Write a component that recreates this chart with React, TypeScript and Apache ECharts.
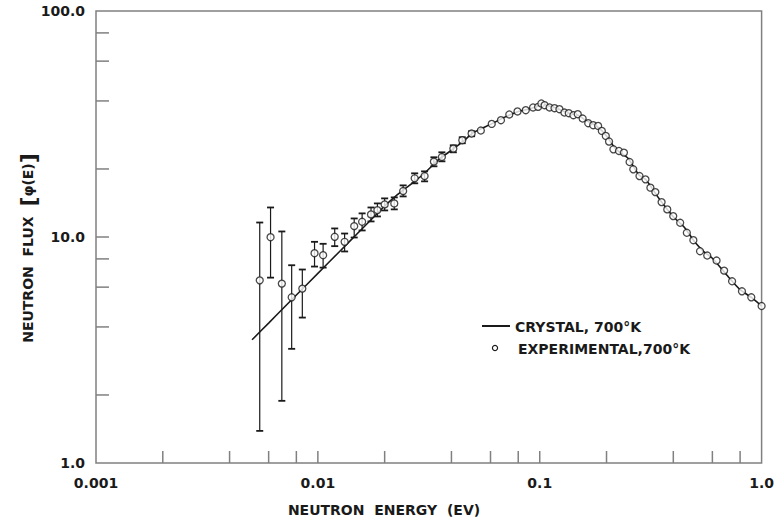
import React, { useEffect, useRef } from "react";
import * as echarts from "echarts";

// Experimental points (energy in eV, flux)
const expEnergy = [
  0.00547, 0.00612, 0.00688, 0.00762, 0.00851, 0.00966, 0.01056, 0.01191, 0.0132, 0.01458,
  0.01583, 0.01736, 0.01855, 0.02, 0.0221, 0.02423, 0.02731, 0.03027, 0.03334, 0.03622,
  0.04079, 0.04476, 0.0493, 0.05427, 0.06076, 0.06687, 0.0729, 0.0794, 0.0865, 0.0933,
  0.0983, 0.1017, 0.1052, 0.1108, 0.1166, 0.1227, 0.1292, 0.1352, 0.1418, 0.1484,
  0.1561, 0.1654, 0.1741, 0.1833, 0.1905, 0.1985, 0.2053, 0.2148, 0.2276, 0.2396,
  0.2541, 0.264, 0.2816, 0.2996, 0.3154, 0.332, 0.3542, 0.3757, 0.3996, 0.4295,
  0.4603, 0.4926, 0.5278, 0.5689, 0.6266, 0.6777, 0.7361, 0.8156, 0.8985, 1.0,
];
const expFlux = [
  6.43, 9.98, 6.22, 5.41, 5.91, 8.48, 8.31, 10.02, 9.52, 11.17,
  11.68, 12.59, 13.15, 13.94, 14.08, 15.97, 18.18, 18.61, 21.56, 22.59,
  24.61, 26.8, 28.7, 29.59, 31.65, 32.87, 34.84, 35.93, 36.4, 37.42,
  37.64, 38.97, 38.3, 37.42, 37.15, 36.77, 35.55, 35.3, 34.58, 34.94,
  33.44, 31.88, 31.24, 31.01, 29.47, 28.0, 26.45, 24.44, 24.02, 23.63,
  21.47, 19.93, 18.61, 17.99, 16.53, 15.8, 14.27, 13.25, 12.37, 11.56,
  10.44, 9.68, 8.65, 8.28, 7.87, 7.1, 6.37, 5.75, 5.41, 4.95,
];
// Error bars for the first points
const errLow = [
  1.387, 6.61, 1.884, 3.2, 4.4, 7.4, 7.32, 9.11, 8.63, 9.95, 10.69, 11.72, 12.33,
  13.11, 13.25, 15.12, 17.28, 17.63, 20.55, 21.62, 23.7, 25.99, 27.91,
];
const errHigh = [
  11.59, 13.51, 10.58, 7.5, 7.18, 9.52, 9.33, 10.91, 10.36, 12.08, 12.72, 13.51, 14.08,
  14.82, 14.97, 16.92, 19.13, 19.52, 22.53, 23.7, 25.46, 27.63, 29.38,
];

// Crystal model curve
const crystalEnergy = [
  0.00505, 0.006, 0.007, 0.008, 0.01, 0.0125, 0.015, 0.0175, 0.02, 0.0225, 0.025, 0.03,
  0.035, 0.04, 0.045, 0.05, 0.06, 0.07, 0.08, 0.09, 0.1, 0.105, 0.11, 0.12, 0.13, 0.14,
  0.15, 0.16, 0.18, 0.2, 0.22, 0.25, 0.28, 0.3, 0.35, 0.4, 0.45, 0.5, 0.55, 0.6, 0.7,
  0.8, 0.9, 1.0,
];
const crystalFlux = [
  3.51, 4.16, 4.85, 5.54, 6.9, 8.61, 10.31, 12.01, 13.71, 15.2, 16.5, 19.0,
  22.0, 24.2, 26.4, 28.9, 31.5, 34.0, 35.9, 36.9, 38.2, 38.6, 38.0, 37.0, 35.8, 35.0,
  34.5, 33.0, 31.0, 28.0, 24.5, 22.3, 18.8, 18.0, 14.5, 12.3, 11.0, 9.5, 8.6, 8.05, 6.75,
  5.85, 5.4, 4.95,
];

const xTickLabels = ["0.001", "0.01", "0.1", "1.0"];
const yTickLabels = ["1.0", "10.0", "100.0"];
const xTicks = [
  0.002, 0.004, 0.006, 0.008, 0.01, 0.02, 0.04, 0.06, 0.08, 0.1, 0.2, 0.4, 0.6, 0.8,
];
const yTicks = [2, 4, 6, 8, 10, 20, 40, 60, 80];

const seriesNames = ["CRYSTAL, 700°K", "EXPERIMENTAL,700°K"];
const FONT = "'DejaVu Sans', 'Liberation Sans', sans-serif";
const INK = "#1a1a1a";
const FRAME = "#808080";

export default function App() {
  const ref = useRef<HTMLDivElement>(null);

  useEffect(() => {
    if (!ref.current) return;
    const chart = echarts.init(ref.current, undefined, { renderer: "svg" });

    const textBase = { fontFamily: FONT, fontSize: 14, fontWeight: "bold", fill: INK };

    const option: any = {
      animation: false,
      backgroundColor: "#ffffff",
      grid: {
        left: 96,
        right: 11,
        top: 11,
        bottom: 60,
        show: true,
        borderColor: FRAME,
        borderWidth: 1.5,
        backgroundColor: "transparent",
      },
      xAxis: {
        type: "log",
        logBase: 10,
        min: 0.001,
        max: 1,
        axisLine: { show: false },
        axisTick: { show: false },
        splitLine: { show: false },
        axisLabel: {
          margin: 13,
          fontFamily: FONT,
          fontSize: 14,
          fontWeight: "bold",
          color: INK,
          formatter: (v: number) => xTickLabels[Math.round(Math.log10(v)) + 3],
        },
      },
      yAxis: {
        type: "log",
        logBase: 10,
        min: 1,
        max: 100,
        axisLine: { show: false },
        axisTick: { show: false },
        splitLine: { show: false },
        axisLabel: {
          margin: 11,
          fontFamily: FONT,
          fontSize: 14,
          fontWeight: "bold",
          color: INK,
          formatter: (v: number) => yTickLabels[Math.round(Math.log10(v))],
        },
      },
      series: [
        {
          name: "xticks",
          type: "custom",
          silent: true,
          data: xTicks.map((v) => [v, 1]),
          encode: { x: 0, y: 1 },
          renderItem: (_p: any, api: any) => {
            const pt = api.coord([api.value(0), 1]);
            return {
              type: "line",
              shape: { x1: pt[0], y1: pt[1], x2: pt[0], y2: pt[1] - 12 },
              style: { stroke: FRAME, lineWidth: 1.5 },
            };
          },
        },
        {
          name: "yticks",
          type: "custom",
          silent: true,
          data: yTicks.map((v) => [0.001, v]),
          encode: { x: 0, y: 1 },
          renderItem: (_p: any, api: any) => {
            const pt = api.coord([0.001, api.value(1)]);
            return {
              type: "line",
              shape: { x1: pt[0], y1: pt[1], x2: pt[0] + 13, y2: pt[1] },
              style: { stroke: FRAME, lineWidth: 1.5 },
            };
          },
        },
        {
          name: seriesNames[0],
          type: "line",
          data: crystalEnergy.map((e, i) => [e, crystalFlux[i]]),
          showSymbol: false,
          symbol: "none",
          smooth: 0.2,
          lineStyle: { color: INK, width: 1.6 },
          z: 3,
        },
        {
          name: "errorbars",
          type: "custom",
          silent: true,
          data: errLow.map((lo, i) => [expEnergy[i], lo, errHigh[i]]),
          encode: { x: 0, y: [1, 2] },
          z: 4,
          renderItem: (_p: any, api: any) => {
            const x = api.value(0);
            const hi = api.coord([x, api.value(2)]);
            const lo = api.coord([x, api.value(1)]);
            const cap = 3.5;
            const st = { stroke: INK, lineWidth: 1.2 };
            const capSt = { stroke: INK, lineWidth: 1.8 };
            return {
              type: "group",
              children: [
                { type: "line", shape: { x1: hi[0], y1: hi[1], x2: lo[0], y2: lo[1] }, style: st },
                { type: "line", shape: { x1: hi[0] - cap, y1: hi[1], x2: hi[0] + cap, y2: hi[1] }, style: capSt },
                { type: "line", shape: { x1: lo[0] - cap, y1: lo[1], x2: lo[0] + cap, y2: lo[1] }, style: capSt },
              ],
            };
          },
        },
        {
          name: seriesNames[1],
          type: "scatter",
          data: expEnergy.map((e, i) => [e, expFlux[i]]),
          symbol: "circle",
          symbolSize: 7,
          itemStyle: { color: "#ffffff", borderColor: INK, borderWidth: 1.3 },
          z: 5,
        },
      ],
      graphic: [
        {
          type: "text",
          x: 28,
          y: 248,
          rotation: Math.PI / 2,
          style: {
            ...textBase,
            text: "NEUTRON  FLUX  {b|[}φ(E){b|]}",
            align: "center",
            verticalAlign: "middle",
            rich: { b: { fontSize: 22, fontFamily: FONT, fontWeight: "bold", fill: INK } },
          },
        },
        {
          type: "text",
          x: 384,
          y: 510,
          style: { ...textBase, text: "NEUTRON  ENERGY  (EV)", align: "center", verticalAlign: "middle" },
        },
        {
          type: "line",
          shape: { x1: 482, y1: 326, x2: 510, y2: 326 },
          style: { stroke: INK, lineWidth: 2 },
        },
        {
          type: "text",
          x: 515,
          y: 327,
          style: { ...textBase, text: seriesNames[0], align: "left", verticalAlign: "middle" },
        },
        {
          type: "circle",
          shape: { cx: 495, cy: 348, r: 2.6 },
          style: { fill: "#ffffff", stroke: INK, lineWidth: 1.2 },
        },
        {
          type: "text",
          x: 518,
          y: 349,
          style: { ...textBase, text: seriesNames[1], align: "left", verticalAlign: "middle" },
        },
      ],
    };

    chart.setOption(option);
    return () => chart.dispose();
  }, []);

  return (
    <div
      ref={ref}
      style={{ position: "fixed", left: 0, top: 0, width: 777, height: 523, background: "#fff" }}
    />
  );
}
